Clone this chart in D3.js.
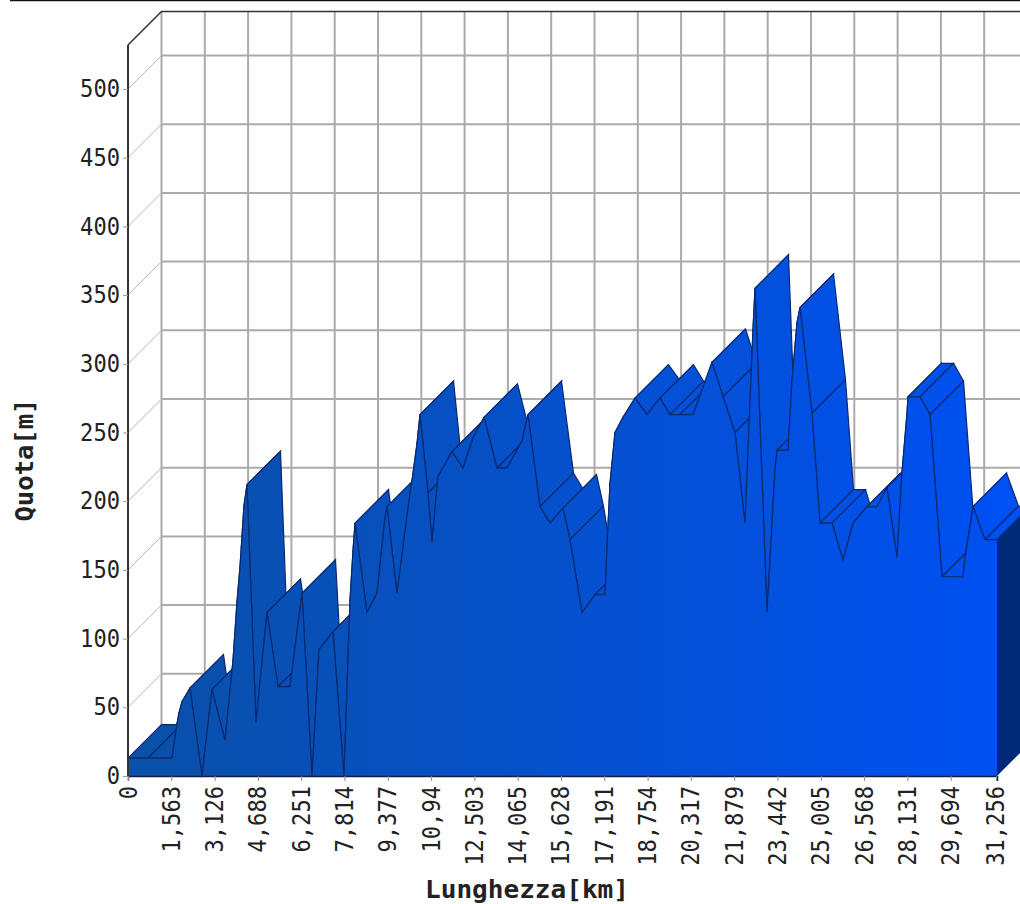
<!DOCTYPE html>
<html>
<head>
<meta charset="utf-8">
<script src="https://cdn.jsdelivr.net/npm/d3@7"></script>
<style>
html,body{margin:0;padding:0;background:#fff;}
svg{display:block;}
text{font-family:"DejaVu Sans Mono",monospace;fill:#222;}
</style>
</head>
<body>
<div id="chart"></div>
<script>
//データ
const distanceKm = [0,0.719,1.583,1.762,1.834,1.942,2.23,2.662,3.021,3.489,3.741,3.777,3.921,4.028,4.172,4.280,
	4.604,5.0,5.395,5.827,6.258,6.618,6.87,7.373,7.769,7.985,8.093,8.165,8.596,8.956,9.244,9.316,9.675,10.143,10.215,
	10.395,10.503,10.79,10.934,11.15,11.654,12.049,12.409,12.805,13.272,13.632,14.171,14.387,14.819,15.178,15.646,
	15.898,16.329,16.797,17.157,17.229,17.337,17.516,17.804,18.236,18.667,19.135,19.495,19.854,20.322,20.754,21.005,
	21.401,21.833,22.192,22.48,22.552,22.984,23.271,23.343,23.739,23.883,24.063,24.171,24.602,24.89,25.322,25.717,
	26.077,26.58,26.939,27.299,27.659,27.839,28.019,28.055,28.487,28.847,29.278,30.034,30.106,30.357,30.393,30.824,31.256];
const quotaM = [13,13,13,38,46,54,64,0,63,26,77,84,127,152,197,212,
	39,119,65,65,133,0,92,105,0,128,164,184,119,133,188,196,133,206,215,
	242,263,206,170,218,236,224,246,261,224,224,244,263,196,184,195,
	172,119,132,132,167,213,250,261,275,263,275,263,263,263,287,301,
	276,250,184,325,355,119,223,237,237,288,330,341,264,184,184,157,
	184,196,196,210,159,221,264,276,276,263,145,145,159,191,196,172,172];
const xTickLabels = ["0","1,563","3,126","4,688","6,251","7,814","9,377","10,94","12,503","14,065","15,628",
	"17,191","18,754","20,317","21,879","23,442","25,005","26,568","28,131","29,694","31,256"];
const yTickValues = [0,50,100,150,200,250,300,350,400,450,500];

const width = 1020, height = 904;
const depth = 33.5;//奥行き
const gridColor = "#aaaaaa", edgeColor = "#0a2a70", axisColor = "#333333";

const x = d3.scaleLinear().domain([0,31.256]).range([128,997]);
const y = d3.scaleLinear().domain([0,500]).range([776,89]);
const yTop = 45;//前面の上端

const svg = d3.select("#chart").append("svg")
	.attr("width",width)
	.attr("height",height)
	.attr("viewBox","0 0 "+width+" "+height);

const grad = svg.append("defs").append("linearGradient")
	.attr("id","areaFill")
	.attr("gradientUnits","userSpaceOnUse")
	.attr("x1",x(0)).attr("x2",x(31.256)).attr("y1",0).attr("y2",0);
grad.append("stop").attr("offset","0").attr("stop-color","#0a50a8");
grad.append("stop").attr("offset","1").attr("stop-color","#0050f2");

//画像上端の線
svg.append("line").attr("x1",10).attr("x2",width).attr("y1",0.5).attr("y2",0.5)
	.attr("stroke","#111").attr("stroke-width",1.5);

//目盛りの位置（ラベルは丸めた値なので等間隔で置く）
const xPositions = xTickLabels.map(function(s,i){return i==20 ? 31.22 : i*1.5574;});

//奥の壁のグリッド
const grid = svg.append("g").attr("stroke",gridColor).attr("stroke-width",2);
grid.selectAll(".v").data(xPositions).enter().append("line")
	.attr("x1",function(d){return x(d)+depth;})
	.attr("x2",function(d){return x(d)+depth;})
	.attr("y1",yTop-depth)
	.attr("y2",y(0)-depth);
grid.selectAll(".h").data(yTickValues).enter().append("line")
	.attr("x1",x(0)+depth)
	.attr("x2",width)
	.attr("y1",function(d){return y(d)-depth;})
	.attr("y2",function(d){return y(d)-depth;});
svg.append("g").attr("stroke","#b5b5b5").attr("stroke-width",1)
	.selectAll("line").data(yTickValues).enter().append("line")
	.attr("x1",x(0))
	.attr("x2",x(0)+depth)
	.attr("y1",function(d){return y(d);})
	.attr("y2",function(d){return y(d)-depth;});

//枠線
svg.append("path")
	.attr("d","M"+x(0)+","+yTop+"L"+(x(0)+depth)+","+(yTop-depth)+"L"+width+","+(yTop-depth))
	.attr("fill","none").attr("stroke",axisColor).attr("stroke-width",1.5);

//上面（左から順に描く）
const points = distanceKm.map(function(d,i){return [x(d),y(quotaM[i])];});
const faces = d3.pairs(points);
svg.append("g").selectAll("path").data(faces).enter().append("path")
	.attr("d",function(d){
		return "M"+d[0]+"L"+d[1]
			+"L"+(d[1][0]+depth)+","+(d[1][1]-depth)
			+"L"+(d[0][0]+depth)+","+(d[0][1]-depth)+"Z";
	})
	.attr("fill","url(#areaFill)")
	.attr("stroke",edgeColor)
	.attr("stroke-width",1.2);

//右側面
const last = points[points.length-1];
svg.append("path")
	.attr("d","M"+last+"L"+(last[0]+depth)+","+(last[1]-depth)
		+"L"+(last[0]+depth)+","+(y(0)-depth)+"L"+x(31.256)+","+y(0)+"Z")
	.attr("fill","#002a78");

//前面
const area = d3.area().x(function(d){return d[0];}).y0(y(0)).y1(function(d){return d[1];});
svg.append("path").datum(points).attr("d",area).attr("fill","url(#areaFill)");
svg.append("path").datum(points).attr("d",d3.line())
	.attr("fill","none").attr("stroke",edgeColor).attr("stroke-width",1.2);

//軸
function fitText(sel,perChar){
	sel.attr("textLength",function(){return this.textContent.length*perChar;})
		.attr("lengthAdjust","spacingAndGlyphs");
}
const xAxis = d3.axisBottom(x).tickValues(xPositions).tickSize(5).tickPadding(4)
	.tickFormat(function(d,i){return xTickLabels[i];});
const gx = svg.append("g").attr("transform","translate(0,"+y(0)+")").call(xAxis);
gx.select(".domain").attr("stroke","#10204a").attr("stroke-width",1.5);
gx.selectAll(".tick line").attr("stroke","#888");
gx.selectAll(".tick text")
	.attr("font-size",24)
	.attr("font-family","DejaVu Sans Mono")
	.attr("text-anchor","end")
	.attr("dy",null)
	.attr("transform","rotate(-90)")
	.attr("x",-10)
	.attr("y",0)
	.attr("dominant-baseline","central")
	.attr("fill","#333")
	.call(fitText,13.3);

const yAxis = d3.axisLeft(y).tickValues(yTickValues).tickSize(5).tickPadding(3);
const gy = svg.append("g").attr("transform","translate("+x(0)+",0)").call(yAxis);
gy.select(".domain").attr("d","M0,"+yTop+"V"+y(0)).attr("stroke",axisColor).attr("stroke-width",2);
gy.selectAll(".tick line").attr("stroke","#999");
gy.selectAll(".tick text")
	.attr("font-size",24)
	.attr("font-family","DejaVu Sans Mono")
	.attr("fill","#333")
	.call(fitText,13.3);

//軸タイトル
svg.append("text").text("Lunghezza[km]")
	.attr("x",527).attr("y",898)
	.attr("text-anchor","middle")
	.attr("font-size",25).attr("font-weight","bold")
	.attr("textLength",204).attr("lengthAdjust","spacingAndGlyphs");
svg.append("text").text("Quota[m]")
	.attr("transform","translate(33,460) rotate(-90)")
	.attr("text-anchor","middle")
	.attr("font-size",25).attr("font-weight","bold")
	.attr("textLength",123).attr("lengthAdjust","spacingAndGlyphs");
</script>
</body>
</html>
